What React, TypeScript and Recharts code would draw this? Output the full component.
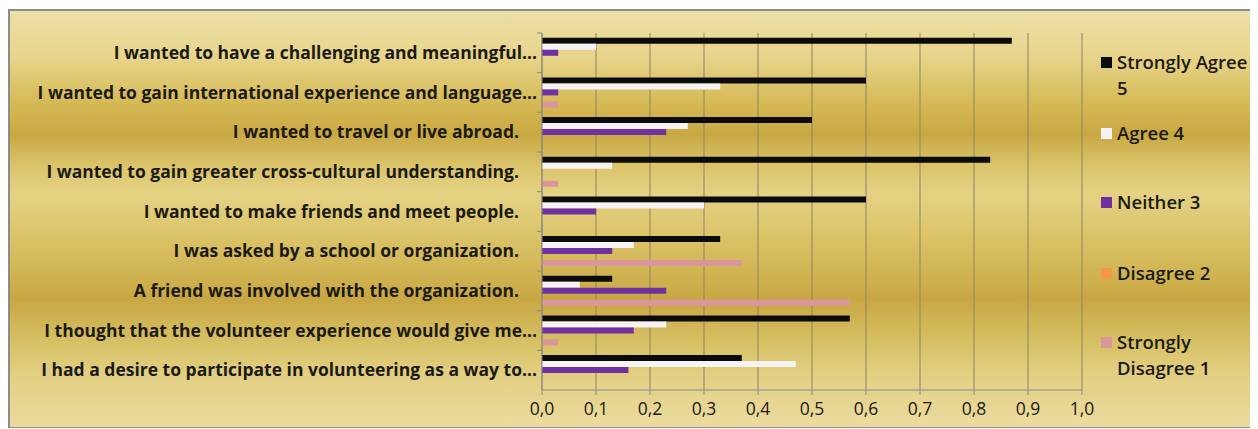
import { BarChart, Bar, XAxis, YAxis, CartesianGrid } from 'recharts';

const categories = [
  'I wanted to have a challenging and meaningful...',
  'I wanted to gain international experience and language...',
  'I wanted to travel or live abroad.',
  'I wanted to gain greater cross-cultural understanding.',
  'I wanted to make friends and meet people.',
  'I was asked by a school or organization.',
  'A friend was involved with the organization.',
  'I thought that the volunteer experience would give me...',
  'I had a desire to participate in volunteering as a way to...',
];

const stronglyAgree = [0.87, 0.6, 0.5, 0.83, 0.6, 0.33, 0.13, 0.57, 0.37];
const agree = [0.1, 0.33, 0.27, 0.13, 0.3, 0.17, 0.07, 0.23, 0.47];
const neither = [0.03, 0.03, 0.23, 0, 0.1, 0.13, 0.23, 0.17, 0.16];
const disagree = [0, 0, 0, 0, 0, 0, 0, 0, 0];
const stronglyDisagree = [0, 0.03, 0, 0.03, 0, 0.37, 0.57, 0.03, 0];

const xTicks = [0, 0.1, 0.2, 0.3, 0.4, 0.5, 0.6, 0.7, 0.8, 0.9, 1.0];

const series = [
  { key: 'sa', name: 'Strongly Agree 5', color: '#0b0b0b', values: stronglyAgree },
  { key: 'a', name: 'Agree 4', color: '#f6f3f6', values: agree },
  { key: 'n', name: 'Neither 3', color: '#7030a0', values: neither },
  { key: 'd', name: 'Disagree 2', color: '#f79646', values: disagree },
  { key: 'sd', name: 'Strongly Disagree 1', color: '#d9969b', values: stronglyDisagree },
];

const data = categories.map((label, i) => {
  const row: Record<string, string | number> = { label };
  series.forEach((s) => {
    row[s.key] = s.values[i];
  });
  return row;
});

const W = 1250;
const H = 420;
const margin = { top: 24, right: 176, left: 0, bottom: 9 };
const xAxisHeight = 30;
const yAxisWidth = 534;
const plotH = H - margin.top - margin.bottom - xAxisHeight;
const halfBand = plotH / categories.length / 2;

const font = '"Open Sans", Lato, sans-serif';
const ink = '#1c1a14';

function CategoryTick(props: any) {
  const { y, payload } = props;
  const axisX = yAxisWidth;
  const text: string = payload.value;
  const shift = text.endsWith('...') ? 0 : 18;
  return (
    <g>
      <line x1={axisX - 5} x2={axisX} y1={y - halfBand} y2={y - halfBand} stroke="#8a8a8a" />
      <text
        x={axisX - 5 - shift}
        y={y}
        dy="0.35em"
        textAnchor="end"
        fill={ink}
        fontSize={17.5}
        fontWeight={700}
        fontFamily={font}
      >
        {text}
      </text>
    </g>
  );
}

const legendPos = [40, 111, 180, 251, 320];

function LegendBox() {
  return (
    <div style={{ position: 'absolute', left: 1093, top: 0, width: 157, height: H }}>
      {series.map((s, i) => (
        <div
          key={s.key}
          style={{
            position: 'absolute',
            top: legendPos[i],
            left: 0,
            display: 'flex',
            alignItems: 'flex-start',
            fontFamily: font,
            fontSize: 18.5,
            fontWeight: 600,
            lineHeight: '26px',
            color: ink,
          }}
        >
          <div style={{ width: 11, height: 11, background: s.color, marginTop: 8, marginRight: 5, flexShrink: 0 }} />
          <div style={{ width: 138 }}>{s.name}</div>
        </div>
      ))}
    </div>
  );
}

export default function App() {
  return (
    <div
      style={{
        position: 'relative',
        top: 1,
        width: W,
        height: H,
        boxShadow: 'inset 0 0 0 2px #8c8c8c',
        background:
          'linear-gradient(to bottom, #ece0a8 0px, #e8d68e 45px, #d5b955 95px, #c9a843 125px, #dcc66e 160px, #e4d283 185px, #dcc46a 225px, #d3b857 255px, #c8a743 290px, #d6bf62 330px, #e2cf82 365px, #ebdca0 420px)',
      }}
    >
      <BarChart
        width={W}
        height={H}
        data={data}
        layout="vertical"
        margin={margin}
        barCategoryGap="12%"
        barGap={0}
      >
        <CartesianGrid horizontal={false} stroke="#8d8463" strokeWidth={1} />
        <XAxis
          type="number"
          domain={[0, 1]}
          ticks={xTicks}
          height={xAxisHeight}
          interval={0}
          tickFormatter={(v: number) => v.toFixed(1).replace('.', ',')}
          axisLine={{ stroke: '#8a8a8a' }}
          tickLine={{ stroke: '#8a8a8a' }}
          tickSize={5}
          tickMargin={8}
          tick={{ fill: ink, fontSize: 17.5, fontFamily: font, fontWeight: 500 }}
        />
        <YAxis
          type="category"
          dataKey="label"
          width={yAxisWidth}
          axisLine={{ stroke: '#8a8a8a' }}
          tickLine={false}
          interval={0}
          tick={<CategoryTick />}
        />
        {series.map((s) => (
          <Bar key={s.key} dataKey={s.key} name={s.name} fill={s.color} isAnimationActive={false} />
        ))}
      </BarChart>
      <LegendBox />
    </div>
  );
}
